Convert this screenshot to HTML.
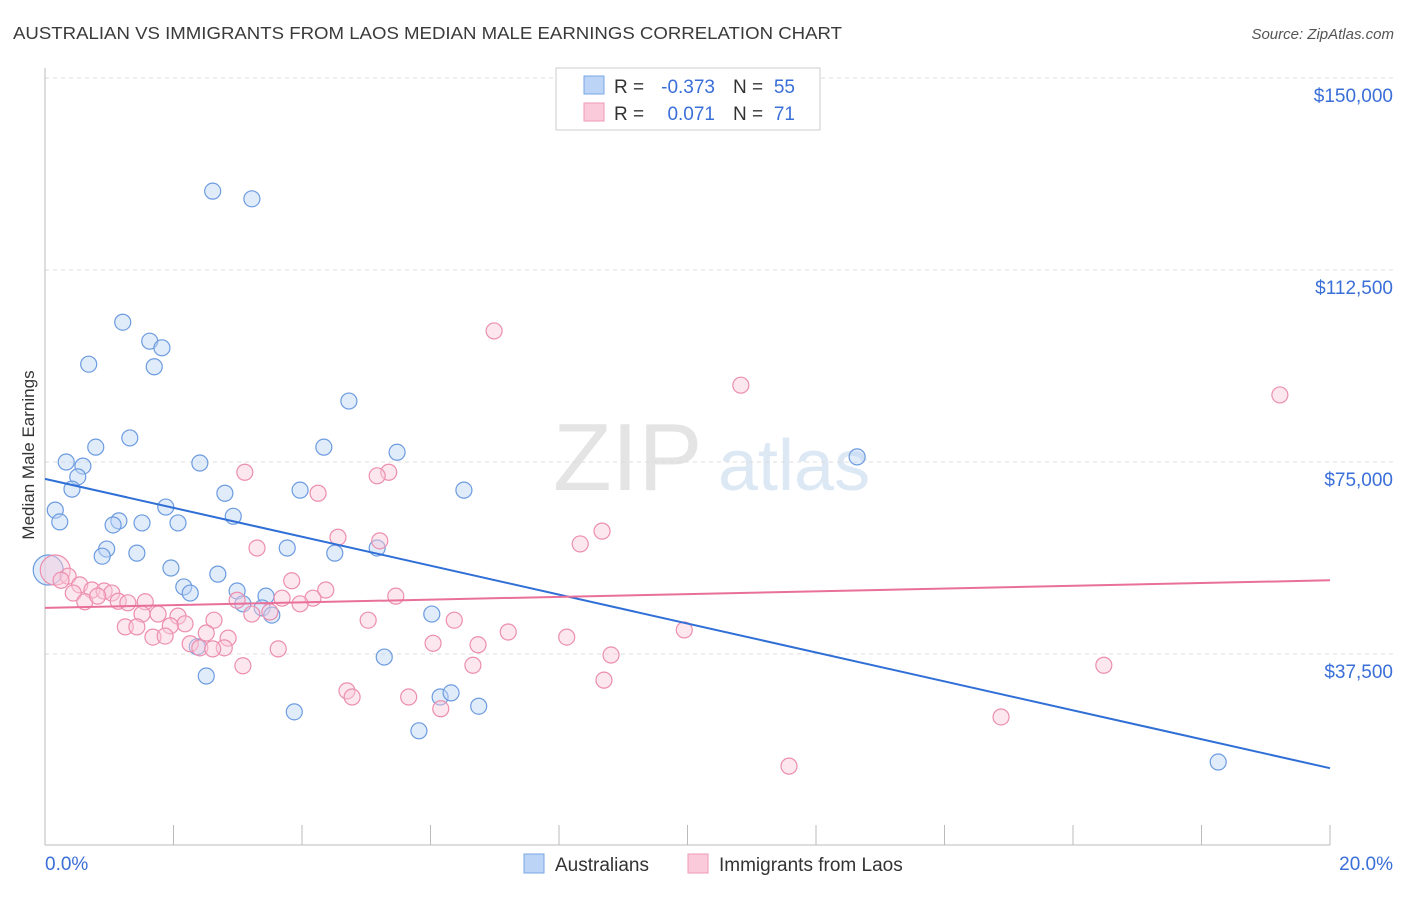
<!DOCTYPE html>
<html><head><meta charset="utf-8"><style>
body{margin:0;background:#fff;font-family:"Liberation Sans",sans-serif}
svg text{font-family:"Liberation Sans",sans-serif}
</style></head><body>
<svg id="c" width="1406" height="892" xmlns="http://www.w3.org/2000/svg">
<text x="13" y="39" font-size="17.5" fill="#3a3a3a" textLength="829" lengthAdjust="spacingAndGlyphs">AUSTRALIAN VS IMMIGRANTS FROM LAOS MEDIAN MALE EARNINGS CORRELATION CHART</text>
<text x="1394" y="39" font-size="15" fill="#555" text-anchor="end" font-style="italic">Source: ZipAtlas.com</text>
<text x="553" y="490" font-size="96" fill="#e4e4e4" font-family="Liberation Serif">ZIP</text>
<text x="718" y="490" font-size="72" fill="#dde8f5">atlas</text>
<text transform="translate(34,455) rotate(-90)" font-size="17" fill="#333" text-anchor="middle">Median Male Earnings</text>
<g id="grid"></g><g id="axes"></g><g id="pts"></g><g id="lines"></g>
<g>
<rect x="556" y="68" width="264" height="62" fill="#fff" stroke="#ccc"/>
<rect x="584" y="76" width="20" height="18" fill="#bcd4f6" stroke="#7aa6e6"/>
<rect x="584" y="103" width="20" height="18" fill="#fbcada" stroke="#ef9ab6"/>
<text x="614" y="93" font-size="19" fill="#333">R =</text>
<text x="715" y="93" font-size="19" fill="#3a6fd8" text-anchor="end">-0.373</text>
<text x="733" y="93" font-size="19" fill="#333">N =</text>
<text x="795" y="93" font-size="19" fill="#3a6fd8" text-anchor="end">55</text>
<text x="614" y="120" font-size="19" fill="#333">R =</text>
<text x="715" y="120" font-size="19" fill="#3a6fd8" text-anchor="end">0.071</text>
<text x="733" y="120" font-size="19" fill="#333">N =</text>
<text x="795" y="120" font-size="19" fill="#3a6fd8" text-anchor="end">71</text>
</g>
<g>
<rect x="524" y="854" width="20" height="19" fill="#bcd4f6" stroke="#7aa6e6"/>
<text x="555" y="871" font-size="19" fill="#333">Australians</text>
<rect x="688" y="854" width="20" height="19" fill="#fbcada" stroke="#ef9ab6"/>
<text x="719" y="871" font-size="19" fill="#333">Immigrants from Laos</text>
</g>
</svg>
<script>
const blueX=[2.61,3.22,1.21,1.63,1.82,0.68,1.70,4.73,1.32,0.79,4.34,5.48,0.33,0.59,0.51,2.41,0.42,2.80,3.97,6.52,0.16,1.88,0.23,2.93,1.15,1.06,1.51,2.07,0.96,0.89,1.43,3.77,4.51,5.17,1.96,2.69,2.16,2.26,2.99,3.44,3.08,3.38,3.53,6.02,2.37,2.51,5.28,3.88,6.15,6.32,6.75,5.82,12.64,18.26,0.05];
const blueY=[127.9,126.4,102.3,98.6,97.3,94.1,93.6,86.9,79.7,77.9,77.9,76.9,75.0,74.2,72.1,74.8,69.7,68.9,69.5,69.5,65.6,66.2,63.3,64.4,63.5,62.7,63.1,63.1,58.0,56.6,57.2,58.2,57.2,58.2,54.3,53.1,50.6,49.4,49.8,48.8,47.3,46.5,45.1,45.3,38.9,33.2,36.9,26.2,29.1,29.9,27.3,22.5,76.0,16.4,53.9];
const pinkX=[6.99,10.83,19.22,3.11,5.35,5.17,4.25,8.67,4.56,5.21,8.33,3.30,0.16,0.36,0.25,3.84,4.37,0.54,0.73,0.92,0.44,1.04,0.62,0.82,1.14,1.29,1.56,2.99,3.69,4.17,5.46,3.97,1.76,1.51,2.07,3.22,3.50,5.03,6.37,2.18,2.63,1.25,1.43,1.95,2.51,7.21,9.95,8.12,1.68,1.87,2.85,2.26,6.04,6.74,2.41,2.79,2.61,3.63,8.81,6.66,3.08,16.48,8.70,4.70,4.78,5.66,6.16,14.88,11.58];
const pinkY=[100.6,90.0,88.1,73.0,73.0,72.3,68.9,61.5,60.3,59.6,59.0,58.2,53.9,52.7,51.9,51.8,50.0,51.0,50.0,49.8,49.4,49.4,47.7,48.8,47.8,47.5,47.7,48.0,48.4,48.4,48.8,47.3,45.3,45.3,44.9,45.3,45.7,44.1,44.1,43.4,44.1,42.8,42.8,43.0,41.6,41.8,42.2,40.8,40.8,41.0,40.6,39.5,39.6,39.3,38.7,38.7,38.5,38.5,37.3,35.3,35.2,35.3,32.4,30.3,29.1,29.1,26.8,25.2,15.6];
const blueTrend=[71.7,15.2];
const pinkTrend=[46.5,51.9];
const yTicks=[37.5,75,112.5,150];
const yTickLabels=["$37,500","$75,000","$112,500","$150,000"];
const NS="http://www.w3.org/2000/svg";
const X=v=>45+v/20*1285, Y=v=>846-v/37.5*192;
function mk(p,t,a){const e=document.createElementNS(NS,t);for(const k in a)e.setAttribute(k,a[k]);document.getElementById(p).appendChild(e);return e;}
yTicks.forEach((t,i)=>{
 const l=mk('grid','line',{x1:45,x2:1394,y1:Y(t),y2:Y(t),stroke:'#ddd','stroke-dasharray':'4,4'});
 
 
 const tx=mk('grid','text',{x:1393,y:Y(t)+24,'font-size':19,fill:'#3a6fd8','text-anchor':'end'});
 tx.textContent=yTickLabels[i];
 
 
});
let ax=mk('axes','line',{x1:45,x2:1330,y1:845,y2:845,stroke:'#bbb'});


let ay=mk('axes','line',{x1:45,x2:45,y1:68,y2:845,stroke:'#bbb'});


for(let i=0;i<=10;i++){const t=mk('axes','line',{x1:X(i*2),x2:X(i*2),y1:825,y2:845,stroke:'#bbb'});
 
 }
[["0.0%",45,'start'],["20.0%",1393,'end']].forEach(d=>{const t=mk('axes','text',{x:d[1],y:870,'font-size':19,fill:'#3a6fd8','text-anchor':d[2]});t.textContent=d[0];
 
 });
function pts(xs,ys,f,s,n){xs.forEach((x,i)=>{const big=(x<0.2&&ys[i]>53&&ys[i]<55);const c=mk('pts','circle',{cx:X(x),cy:Y(ys[i]),r:big?15:8,fill:f,'fill-opacity':0.45,stroke:s,'stroke-width':1.2});
 
 });}
pts(blueX,blueY,'#bcd4f6','#6c9be0','australian-point');
pts(pinkX,pinkY,'#fbcada','#ec8eae','laos-point');
let bl=mk('lines','line',{x1:X(0),y1:Y(blueTrend[0]),x2:X(20),y2:Y(blueTrend[1]),stroke:'#2f6fd6','stroke-width':2});


let pl=mk('lines','line',{x1:X(0),y1:Y(pinkTrend[0]),x2:X(20),y2:Y(pinkTrend[1]),stroke:'#e8709a','stroke-width':2});


</script>
</body></html>
